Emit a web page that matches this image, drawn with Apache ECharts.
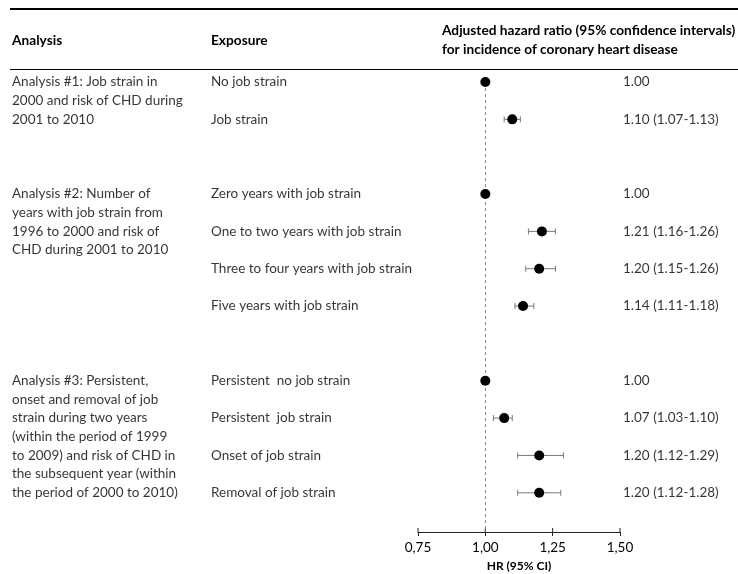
<!DOCTYPE html>
<html><head><meta charset="utf-8">
<script src="https://cdn.jsdelivr.net/npm/echarts@6/dist/echarts.min.js"></script>
<style>html,body{margin:0;padding:0;background:#fff}#c{width:738px;height:574px}</style>
</head><body><div id="c"></div>
<script>
// ---- data ----
const analyses = [
  "Analysis #1: Job strain in\n2000 and risk of CHD during\n2001 to 2010",
  "Analysis #2: Number of\nyears with job strain from\n1996 to 2000 and risk of\nCHD during 2001 to 2010",
  "Analysis #3: Persistent,\nonset and removal of job\nstrain during two years\n(within the period of 1999\nto 2009) and risk of CHD in\nthe subsequent year (within\nthe period of 2000 to 2010)"
];
const exposures = [
  ["No job strain", "Job strain"],
  ["Zero years with job strain", "One to two years with job strain", "Three to four years with job strain", "Five years with job strain"],
  ["Persistent  no job strain", "Persistent  job strain", "Onset of job strain", "Removal of job strain"]
];
const hr = [[1.00, 1.10], [1.00, 1.21, 1.20, 1.14], [1.00, 1.07, 1.20, 1.20]];
const ciLow = [[null, 1.07], [null, 1.16, 1.15, 1.11], [null, 1.03, 1.12, 1.12]];
const ciHigh = [[null, 1.13], [null, 1.26, 1.26, 1.18], [null, 1.10, 1.29, 1.28]];
const xTickValues = [0.75, 1.00, 1.25, 1.50];
const xTicks = ["0,75", "1,00", "1,25", "1,50"];
const headers = ["Analysis", "Exposure", "Adjusted hazard ratio (95% confidence intervals)\nfor incidence of coronary heart disease"];
const axisTitle = "HR (95% CI)";

// ---- layout ----
const FONT = "Lato";
const FS = 13.5;
const colAnalysis = 12, colExposure = 211, colValue = 623;
const rowMax = 12.05;
const lineH = 18.67;

// build rows (groups separated by one blank row)
const analysisPts = [], exposurePts = [], valuePts = [], dotPts = [], ciPts = [];
let r = 0;
analyses.forEach((a, g) => {
  analysisPts.push({ value: [colAnalysis, r], txt: a });
  exposures[g].forEach((e, i) => {
    const v = hr[g][i], lo = ciLow[g][i], hi = ciHigh[g][i];
    exposurePts.push({ value: [colExposure, r], txt: e });
    const lbl = v.toFixed(2) + (lo != null ? " (" + lo.toFixed(2) + "-" + hi.toFixed(2) + ")" : "");
    valuePts.push({ value: [colValue, r], txt: lbl });
    dotPts.push([v, r]);
    if (lo != null) ciPts.push([lo, hi, r]);
    r++;
  });
  r++;
});

const textLabel = (vAlign, offY) => ({
  show: true, position: [0, 0], align: "left", verticalAlign: vAlign, offset: [0, offY],
  formatter: p => p.data.txt, fontFamily: FONT, fontSize: FS, color: "#000", lineHeight: lineH
});

const chart = echarts.init(document.getElementById("c"), null, { renderer: "canvas" });
chart.setOption({
  animation: false,
  grid: [
    { left: 418, width: 202, top: 82, height: 450, containLabel: false, outerBoundsMode: "none" },
    { left: 0, width: 738, top: 82, height: 450, containLabel: false, outerBoundsMode: "none" }
  ],
  xAxis: [
    { gridIndex: 0, type: "value", min: 0.75, max: 1.5, interval: 0.25, position: "bottom",
      axisLine: { show: true, onZero: false, lineStyle: { color: "#222", width: 1 } },
      axisTick: { show: true, length: 4, lineStyle: { color: "#222" } },
      axisLabel: { margin: 9, fontFamily: FONT, fontSize: FS, color: "#000",
        formatter: (v) => xTicks[Math.round((v - 0.75) / 0.25)] },
      splitLine: { show: false },
      name: axisTitle, nameLocation: "middle", nameGap: 26,
      nameTextStyle: { fontFamily: FONT, fontSize: 12, fontWeight: "bold", color: "#000" } },
    { gridIndex: 1, type: "value", min: 0, max: 738, show: false }
  ],
  yAxis: [
    { gridIndex: 0, type: "value", min: 0, max: rowMax, inverse: true, show: false },
    { gridIndex: 1, type: "value", min: 0, max: rowMax, inverse: true, show: false }
  ],
  series: [
    { type: "line", xAxisIndex: 0, yAxisIndex: 0, data: [], silent: true,
      markLine: { symbol: "none", silent: true, label: { show: false },
        lineStyle: { color: "#888", type: [3, 3], width: 1 }, data: [{ xAxis: 1 }] } },
    // upper half of the axis ticks (ticks cross the axis line)
    { type: "custom", xAxisIndex: 0, yAxisIndex: 0, data: xTickValues.map(v => [v, rowMax]), silent: true, clip: false,
      renderItem: (params, api) => {
        const p = api.coord([api.value(0), api.value(1)]);
        return { type: "line", shape: { x1: p[0], y1: p[1] - 4, x2: p[0], y2: p[1] }, style: { stroke: "#222", lineWidth: 1 } };
      } },
    { type: "custom", xAxisIndex: 0, yAxisIndex: 0, data: ciPts, z: 3,
      renderItem: (params, api) => {
        const a = api.coord([api.value(0), api.value(2)]);
        const b = api.coord([api.value(1), api.value(2)]);
        const st = { stroke: "#7a7a7a", lineWidth: 1 };
        return { type: "group", children: [
          { type: "line", shape: { x1: a[0], y1: a[1], x2: b[0], y2: b[1] }, style: st },
          { type: "line", shape: { x1: a[0], y1: a[1] - 3, x2: a[0], y2: a[1] + 3 }, style: st },
          { type: "line", shape: { x1: b[0], y1: b[1] - 3, x2: b[0], y2: b[1] + 3 }, style: st }
        ] };
      } },
    { type: "scatter", xAxisIndex: 0, yAxisIndex: 0, data: dotPts, symbolSize: 10, z: 5,
      itemStyle: { color: "#000", opacity: 1 } },
    { type: "scatter", xAxisIndex: 1, yAxisIndex: 1, data: analysisPts, symbolSize: 0, clip: false,
      label: textLabel("top", -lineH / 2) },
    { type: "scatter", xAxisIndex: 1, yAxisIndex: 1, data: exposurePts, symbolSize: 0, clip: false,
      label: textLabel("middle", 0) },
    { type: "scatter", xAxisIndex: 1, yAxisIndex: 1, data: valuePts, symbolSize: 0, clip: false,
      label: textLabel("middle", 0) }
  ],
  graphic: [
    { type: "line", shape: { x1: 10, y1: 9, x2: 738, y2: 9 }, style: { stroke: "#000", lineWidth: 2 } },
    { type: "line", shape: { x1: 10, y1: 69.5, x2: 738, y2: 69.5 }, style: { stroke: "#000", lineWidth: 1 } },
    { type: "text", x: 12, y: 41, style: { text: headers[0], font: "bold 13.7px " + FONT, fill: "#000", verticalAlign: "middle" } },
    { type: "text", x: 211, y: 41, style: { text: headers[1], font: "bold 13.7px " + FONT, fill: "#000", verticalAlign: "middle" } },
    { type: "text", x: 442, y: 21, style: { text: headers[2], font: "bold 13.7px " + FONT, fill: "#000", verticalAlign: "top", lineHeight: 19 } }
  ]
});
</script></body></html>
